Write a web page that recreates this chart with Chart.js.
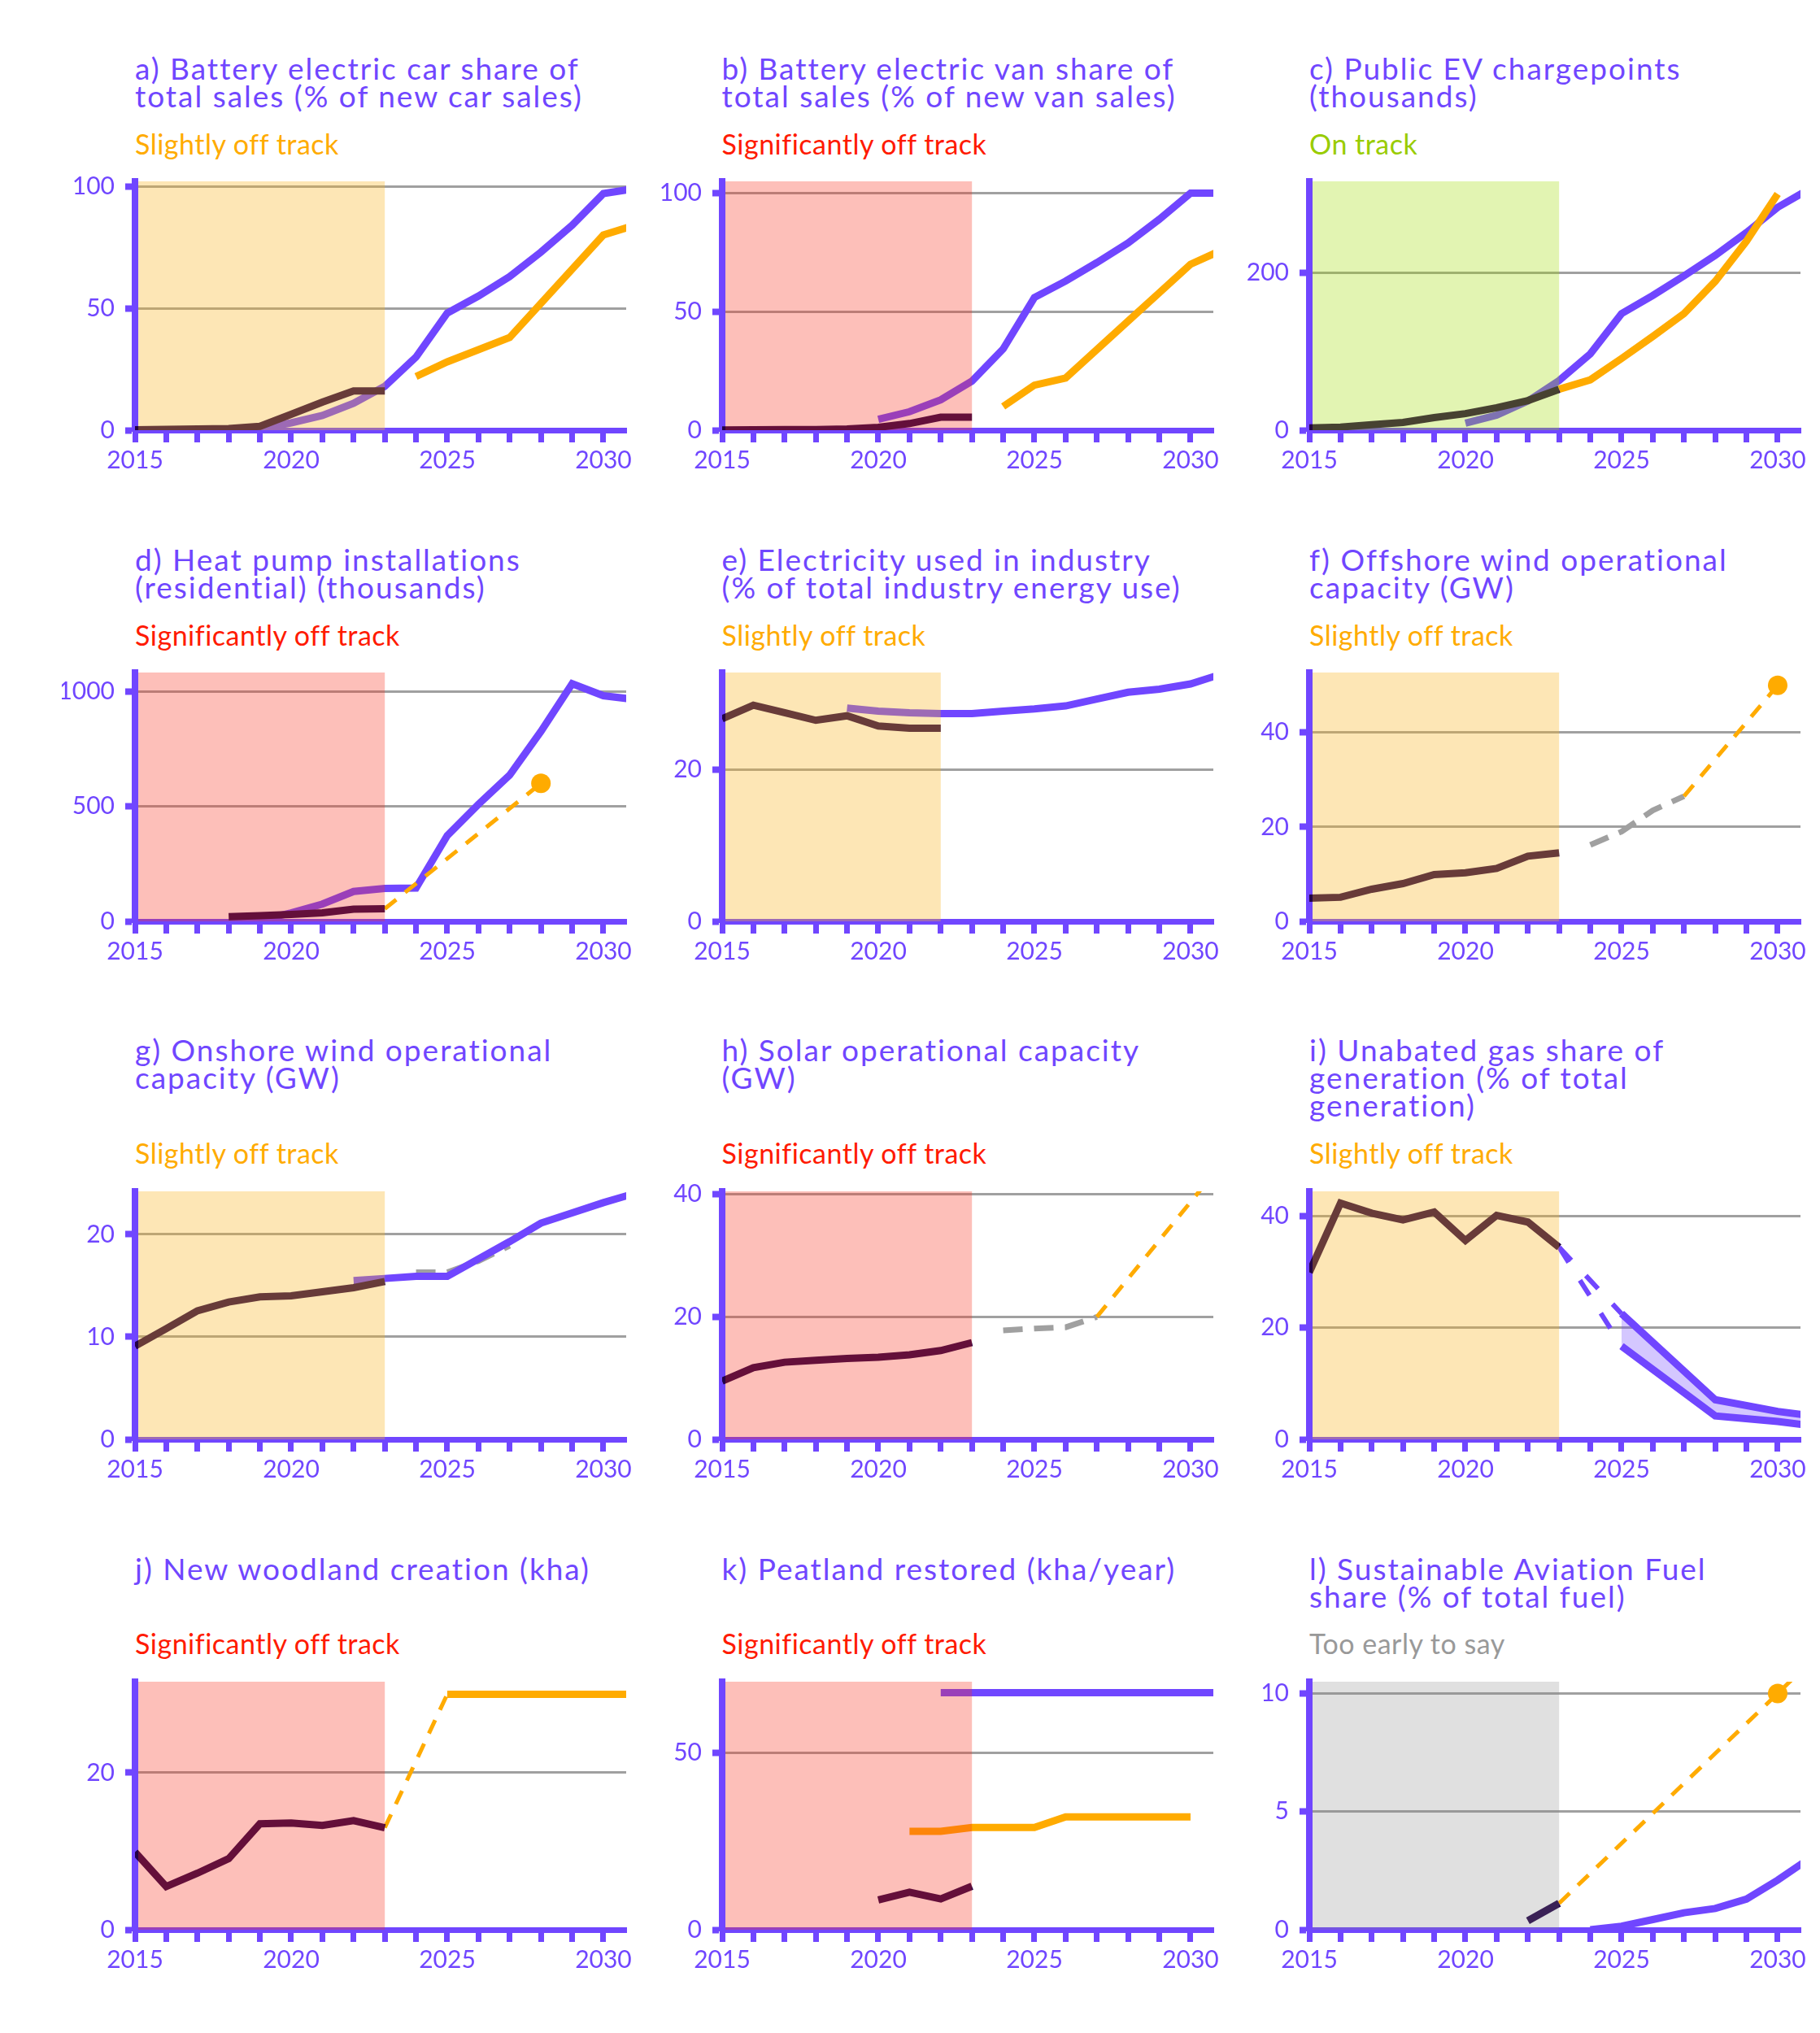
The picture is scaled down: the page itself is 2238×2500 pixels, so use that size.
<!DOCTYPE html>
<html lang="en">
<head>
<meta charset="UTF-8" />
<title>Progress indicators</title>
<script src="https://cdn.jsdelivr.net/npm/chart.js@4.4.1/dist/chart.umd.min.js"></script>
<style>
  body { margin: 0; background: #fff; width: 2238px; height: 2500px; position: relative; overflow: hidden; font-family: Lato, "Open Sans", sans-serif; }
  .title { position: absolute; color: #7046ff; font-size: 37px; line-height: 34px; letter-spacing: 2px; white-space: nowrap; }
  .status { position: absolute; font-size: 34px; line-height: 34px; letter-spacing: 0.5px; white-space: nowrap; }
  canvas { position: absolute; }
</style>
</head>
<body>
<script>
// ---- data (one value per year 2015..2031, null = no value) ----
const _ = null;
const YEARS = [2015, 2016, 2017, 2018, 2019, 2020, 2021, 2022, 2023, 2024, 2025, 2026, 2027, 2028, 2029, 2030, 2031];

// a) battery electric cars
const carActual = [0.2, 0.3, 0.5, 0.7, 1.6, 6.5, 11.5, 16.1, 16.1, _, _, _, _, _, _, _, _];
const carPathway = [_, _, _, _, 0.5, 3, 6, 11, 18, 30, 48, 55, 63, 73, 84, 97, 99];
const carMandate = [_, _, _, _, _, _, _, _, _, 22, 28, 33, 38, 52, 66, 80, 84];
const carTicks = [0, 50, 100];
// b) battery electric vans
const vanActual = [0.1, 0.2, 0.3, 0.3, 0.5, 1.2, 2.8, 5.5, 5.5, _, _, _, _, _, _, _, _];
const vanPathway = [_, _, _, _, _, 4.6, 7.8, 12.8, 20.7, 34.3, 56, 62.9, 70.7, 79, 89, 100, 100];
const vanMandate = [_, _, _, _, _, _, _, _, _, 10, 19, 22, 34, 46, 58, 70, 76];
const vanTicks = [0, 50, 100];
// c) public chargepoints
const chargeActual = [2.9, 4, 7, 9.8, 16, 21, 28.6, 37.6, 52, _, _, _, _, _, _, _, _];
const chargePathway = [_, _, _, _, _, 9, 19, 37, 63, 97, 148, 171, 196, 222, 251, 283, 306];
const chargeTarget = [_, _, _, _, _, _, _, _, 52, 64, 91, 119, 148, 189, 240, 300, _];
const chargeTicks = [0, 200];
// d) heat pumps
const heatActual = [_, _, _, 20, 25, 30, 37, 53, 55, _, _, _, _, _, _, _, _];
const heatPathway = [_, _, _, _, 5, 37, 75, 130, 143, 145, 373, 509, 636, 826, 1033, 981, 965];
const heatTrajectory = [_, _, _, _, _, _, _, _, 55, _, _, _, _, 600, _, _, _];
const heatGoal = [_, _, _, _, _, _, _, _, _, _, _, _, _, 600, _, _, _];
const heatTicks = [0, 500, 1000];
// e) industry electricity
const industryActual = [26.7, 28.5, 27.5, 26.5, 27.1, 25.75, 25.45, 25.45, _, _, _, _, _, _, _, _, _];
const industryPathway = [_, _, _, _, 28.1, 27.7, 27.5, 27.4, 27.4, 27.7, 28, 28.4, 29.3, 30.2, 30.6, 31.3, 32.6];
const industryTicks = [0, 20];
// f) offshore wind
const offshoreActual = [4.9, 5.1, 6.8, 8.0, 9.9, 10.3, 11.2, 13.8, 14.5, _, _, _, _, _, _, _, _];
const offshorePipeline = [_, _, _, _, _, _, _, _, _, 16.2, 19, 23.5, 26.5, _, _, _, _];
const offshoreTrajectory = [_, _, _, _, _, _, _, _, _, _, _, _, 26.5, _, _, 50, _];
const offshoreGoal = [_, _, _, _, _, _, _, _, _, _, _, _, _, _, _, 50, _];
const offshoreTicks = [0, 20, 40];
// g) onshore wind
const onshoreActual = [9.1, 10.8, 12.55, 13.4, 13.9, 14.0, 14.4, 14.8, 15.4, _, _, _, _, _, _, _, _];
const onshorePathway = [_, _, _, _, _, _, _, 15.5, 15.7, 15.9, 15.9, 17.6, 19.3, 21.1, 22.1, 23.1, 24];
const onshorePipeline = [_, _, _, _, _, _, _, _, _, 16.3, 16.3, 17.4, 18.9, _, _, _, _];
const onshoreTicks = [0, 10, 20];
// h) solar
const solarActual = [9.5, 11.7, 12.6, 12.9, 13.2, 13.4, 13.8, 14.5, 15.8, _, _, _, _, _, _, _, _];
const solarPipeline = [_, _, _, _, _, _, _, _, _, 17.8, 18.1, 18.3, 20, _, _, _, _];
const solarTrajectory = [_, _, _, _, _, _, _, _, _, _, _, _, 20, _, _, _, 45];
const solarTicks = [0, 20, 40];
// i) unabated gas
const gasActual = [29.9, 42.3, 40.5, 39.3, 40.7, 35.6, 40.1, 38.9, 34.4, _, _, _, _, _, _, _, _];
const gasUpperDash = [_, _, _, _, _, _, _, _, 34.4, _, 22.5, _, _, _, _, _, _];
const gasLowerDash = [_, _, _, _, _, _, _, _, 34.4, _, 16.7, _, _, _, _, _, _];
const gasUpper = [_, _, _, _, _, _, _, _, _, _, 22.5, _, _, 7.1, _, 5.0, 4.3];
const gasLower = [_, _, _, _, _, _, _, _, _, _, 16.7, _, _, 4.2, _, 3.2, 2.5];
const gasTicks = [0, 20, 40];
// j) woodland
const woodActual = [9.9, 5.5, 7.2, 9.05, 13.5, 13.6, 13.3, 13.9, 13.0, _, _, _, _, _, _, _, _];
const woodTrajectory = [_, _, _, _, _, _, _, _, 13.0, _, 30, _, _, _, _, _, _];
const woodTarget = [_, _, _, _, _, _, _, _, _, _, 30, 30, 30, 30, 30, 30, 30];
const woodTicks = [0, 20];
// k) peatland
const peatActual = [_, _, _, _, _, 8.4, 10.6, 8.7, 12.3, _, _, _, _, _, _, _, _];
const peatTarget = [_, _, _, _, _, _, 27.8, 27.8, 28.9, 28.9, 28.9, 31.9, 31.9, 31.9, 31.9, 31.9, _];
const peatPathway = [_, _, _, _, _, _, _, 67, 67, 67, 67, 67, 67, 67, 67, 67, 67];
const peatTicks = [0, 50];
// l) sustainable aviation fuel
const safActual = [_, _, _, _, _, _, _, 0.38, 1.12, _, _, _, _, _, _, _, _];
const safTrajectory = [_, _, _, _, _, _, _, _, 1.12, _, _, _, _, _, _, 10, 11.3];
const safGoal = [_, _, _, _, _, _, _, _, _, _, _, _, _, _, _, 10, _];
const safPathway = [_, _, _, _, _, _, _, _, _, 0, 0.15, 0.43, 0.72, 0.9, 1.3, 2.1, 3.0];
const safTicks = [0, 5, 10];

// ---- styles ----
const PURPLE = '#7046ff';
const DARK = '#220047';
const ORANGE = '#ffab00';
const GREY = '#a0a0a0';
const STATUS = {
  slight: ['Slightly off track', '#ffab00', 'rgba(250,180,30,0.33)'],
  sig: ['Significantly off track', '#ff1a00', 'rgba(250,50,30,0.31)'],
  on: ['On track', '#99cc00', 'rgba(160,220,0,0.3)'],
  early: ['Too early to say', '#999999', 'rgba(130,130,130,0.25)']
};
const X_MAX = 2030.73;

// ---- layout ----
const COL_X = [166, 887.5, 1610];
const ROW_TITLE = [98.5, 702, 1305.5, 1943];
const ROW_STATUS = [190, 794, 1431, 2034];
const ROW_TOP = [216, 820, 1458, 2061];
const ROW_AXIS = [529, 1133, 1770, 2373];
const PLOT_W = 604;
const LINE_W = 9;

const solid = (d, color) => ({ d, color, width: LINE_W });
const dashed = (d, color, width, dash) => ({ d, color, width, dash });
const dot = d => ({ d, color: ORANGE, dot: true });

const panels = [
  { title: ['a) Battery electric car share of', 'total sales (% of new car sales)'], status: 'slight', max: 102, ticks: carTicks,
    series: [solid(carActual, DARK), solid(carMandate, ORANGE), solid(carPathway, PURPLE)] },
  { title: ['b) Battery electric van share of', 'total sales (% of new van sales)'], status: 'sig', max: 105, ticks: vanTicks,
    series: [solid(vanActual, DARK), solid(vanMandate, ORANGE), solid(vanPathway, PURPLE)] },
  { title: ['c) Public EV chargepoints', '(thousands)'], status: 'on', max: 316, ticks: chargeTicks,
    series: [solid(chargeActual, DARK), solid(chargeTarget, ORANGE), solid(chargePathway, PURPLE)] },
  { title: ['d) Heat pump installations', '(residential) (thousands)'], status: 'sig', max: 1082, ticks: heatTicks,
    series: [dot(heatGoal), solid(heatActual, DARK), dashed(heatTrajectory, ORANGE, 5, [18, 14]), solid(heatPathway, PURPLE)] },
  { title: ['e) Electricity used in industry', '(% of total industry energy use)'], status: 'slight', max: 32.8, ticks: industryTicks, shadeTo: 2022,
    series: [solid(industryActual, DARK), solid(industryPathway, PURPLE)] },
  { title: ['f) Offshore wind operational', 'capacity (GW)'], status: 'slight', max: 52.7, ticks: offshoreTicks,
    series: [dot(offshoreGoal), solid(offshoreActual, DARK), dashed(offshoreTrajectory, ORANGE, 5, [18, 14]), dashed(offshorePipeline, GREY, 7, [24, 14])] },
  { title: ['g) Onshore wind operational', 'capacity (GW)'], status: 'slight', max: 24.2, ticks: onshoreTicks,
    series: [solid(onshoreActual, DARK), solid(onshorePathway, PURPLE), dashed(onshorePipeline, GREY, 7, [24, 14])] },
  { title: ['h) Solar operational capacity', '(GW)'], status: 'sig', max: 40.5, ticks: solarTicks,
    series: [solid(solarActual, DARK), dashed(solarTrajectory, ORANGE, 5, [18, 14]), dashed(solarPipeline, GREY, 7, [24, 14])] },
  { title: ['i) Unabated gas share of', 'generation (% of total', 'generation)'], status: 'slight', max: 44.4, ticks: gasTicks,
    series: [solid(gasActual, DARK), dashed(gasUpperDash, PURPLE, 6, [22, 26]), dashed(gasLowerDash, PURPLE, 6, [22, 26]),
      solid(gasUpper, PURPLE), Object.assign(solid(gasLower, PURPLE), { fillTo: 3 })] },
  { title: ['j) New woodland creation (kha)'], status: 'sig', max: 31.6, ticks: woodTicks,
    series: [solid(woodActual, DARK), dashed(woodTrajectory, ORANGE, 5, [18, 14]), solid(woodTarget, ORANGE)] },
  { title: ['k) Peatland restored (kha/year)'], status: 'sig', max: 70.1, ticks: peatTicks,
    series: [solid(peatActual, DARK), solid(peatTarget, ORANGE), solid(peatPathway, PURPLE)] },
  { title: ['l) Sustainable Aviation Fuel', 'share (% of total fuel)'], status: 'early', max: 10.5, ticks: safTicks,
    series: [dot(safGoal), solid(safActual, DARK), dashed(safTrajectory, ORANGE, 5, [18, 14]), solid(safPathway, PURPLE)] }
];

// translucent overlay over the historical period, drawn on top of the lines
const shadePlugin = {
  id: 'shade',
  afterDatasetsDraw(chart, args, opts) {
    const { ctx, chartArea, scales: { x } } = chart;
    const x0 = x.getPixelForValue(opts.from) + 4;
    const x1 = x.getPixelForValue(opts.to);
    ctx.save();
    ctx.fillStyle = opts.color;
    ctx.fillRect(x0, chartArea.top, x1 - x0, chartArea.bottom - chartArea.top);
    ctx.restore();
  }
};

Chart.defaults.font.family = 'Lato, "Open Sans", sans-serif';
Chart.defaults.animation = false;

function addText(cls, lines, left, baseline, size, color) {
  const el = document.createElement('div');
  el.className = cls;
  el.style.left = left + 'px';
  // Lato: baseline sits (lh - 1.2 size) / 2 + 0.987 size below the line top
  el.style.top = (baseline - ((34 - 1.2 * size) / 2 + 0.987 * size)) + 'px';
  if (color) el.style.color = color;
  el.innerHTML = lines.join('<br>');
  document.body.appendChild(el);
}

panels.forEach((p, i) => {
  const row = Math.floor(i / 3), col = i % 3;
  const axisX = COL_X[col];
  const [label, statusColor, shadeColor] = STATUS[p.status];
  addText('title', p.title, axisX, ROW_TITLE[row], 37);
  addText('status', [label], axisX, ROW_STATUS[row], 34, statusColor);

  const padL = 20, yW = 90, padT = 24, padR = 40, xH = 70;
  const plotH = ROW_AXIS[row] - ROW_TOP[row];
  const canvas = document.createElement('canvas');
  const w = padL + yW + PLOT_W + padR, h = padT + plotH + xH;
  canvas.width = w; canvas.height = h;
  canvas.style.width = w + 'px'; canvas.style.height = h + 'px';
  canvas.style.left = (axisX - padL - yW) + 'px';
  canvas.style.top = (ROW_TOP[row] - padT) + 'px';
  document.body.appendChild(canvas);

  const datasets = p.series.map(s => {
    const data = YEARS.map((x, k) => ({ x, y: s.d[k] })).filter(pt => pt.y !== null);
    if (s.dot) {
      return { data, showLine: false, pointRadius: 12, pointBackgroundColor: s.color, pointBorderWidth: 0, clip: false };
    }
    return {
      data, borderColor: s.color, borderWidth: s.width, borderDash: s.dash || [],
      pointRadius: 0, tension: 0, spanGaps: true,
      fill: s.fillTo !== undefined ? { target: s.fillTo } : false,
      backgroundColor: 'rgba(112,70,255,0.3)'
    };
  });

  new Chart(canvas, {
    type: 'line',
    data: { datasets },
    plugins: [shadePlugin],
    options: {
      responsive: false,
      devicePixelRatio: 1,
      layout: { padding: { left: padL, top: padT, right: padR, bottom: 0 } },
      plugins: {
        legend: { display: false },
        tooltip: { enabled: false },
        shade: { from: 2015, to: p.shadeTo || 2023, color: shadeColor }
      },
      scales: {
        x: {
          type: 'linear', min: 2015, max: X_MAX,
          afterFit(s) { s.height = xH; },
          grid: { drawOnChartArea: false, tickLength: 15, tickWidth: 7, tickColor: PURPLE },
          border: { color: PURPLE, width: 7 },
          ticks: {
            stepSize: 1, includeBounds: false, autoSkip: false, maxRotation: 0,
            color: PURPLE, font: { size: 30 }, padding: 4,
            callback: v => (v % 5 === 0 ? String(v) : '')
          }
        },
        y: {
          min: 0, max: p.max,
          afterFit(s) { s.width = yW; },
          afterBuildTicks(s) { s.ticks = p.ticks.map(value => ({ value })); },
          grid: {
            color: c => (c.tick && c.tick.value === 0 ? 'rgba(0,0,0,0)' : GREY),
            lineWidth: 3, tickLength: 12, tickWidth: 8, tickColor: PURPLE
          },
          border: { color: PURPLE, width: 8 },
          ticks: { color: PURPLE, font: { size: 30 }, padding: 13, callback: v => String(v) }
        }
      }
    }
  });
});
</script>
</body>
</html>
